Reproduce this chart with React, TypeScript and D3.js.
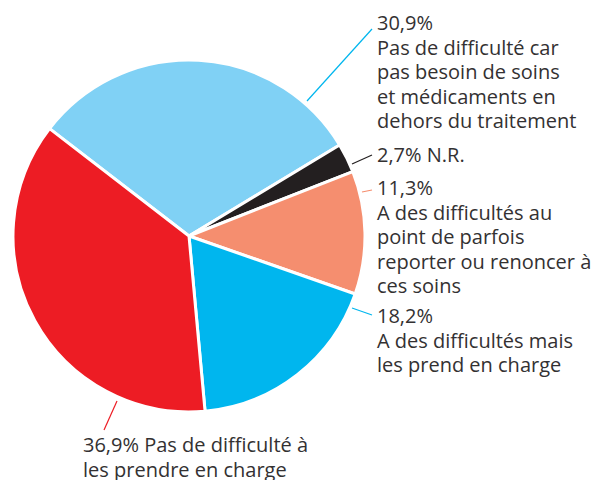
import * as d3 from 'd3';

const categories = [
  'Pas de difficulté car pas besoin de soins et médicaments en dehors du traitement',
  'N.R.',
  'A des difficultés au point de parfois reporter ou renoncer à ces soins',
  'A des difficultés mais les prend en charge',
  'Pas de difficulté à les prendre en charge',
];
const values = [30.9, 2.7, 11.3, 18.2, 36.9];
const colors = ['#80d1f5', '#231f20', '#f58e6f', '#00b6ee', '#ed1c24'];
const lineColors = ['#00b6ee', '#231f20', '#f58e6f', '#00b6ee', '#ed1c24'];
// label lines as drawn in the picture
const labelLines = [
  ['30,9%', 'Pas de difficulté car', 'pas besoin de soins', 'et médicaments en', 'dehors du traitement'],
  ['2,7% N.R.'],
  ['11,3%', 'A des difficultés au', 'point de parfois', 'reporter ou renoncer à', 'ces soins'],
  ['18,2%', 'A des difficultés mais', 'les prend en charge'],
  ['36,9% Pas de difficulté à', 'les prendre en charge'],
];

const W = 592;
const H = 480;
const cx = 189;
const cy = 236;
const R = 176;
const lineH = 24.6;

export default function App() {
  const pie = d3
    .pie<number>()
    .sort(null)
    .value((d) => d)
    .startAngle((-52.4 * Math.PI) / 180)
    .endAngle(((360 - 52.4) * Math.PI) / 180);
  const arcs = pie(values);
  const arc = d3.arc<d3.PieArcDatum<number>>().innerRadius(0).outerRadius(R);
  const outer = d3.arc<d3.PieArcDatum<number>>().innerRadius(R + 2).outerRadius(R + 2);

  // leader line end points and text anchors, per slice
  const ends = [
    { x: 372, y: 29, tx: 377, ty: 30 },
    { x: 372, y: 155, tx: 377, ty: 162 },
    { x: 372, y: 190, tx: 377, ty: 195 },
    { x: 372, y: 315, tx: 377, ty: 323 },
    { x: 104, y: 430, tx: 83, ty: 452 },
  ];
  const starts = [
    [307, 101],
    [352, 164],
    [362, 192],
    [352, 308],
    [117, 401],
  ];

  return (
    <svg width={W} height={H} style={{ display: 'block', position: 'absolute', left: 0, top: 0 }}>
      <rect width={W} height={H} fill="#fff" />
      <g transform={`translate(${cx},${cy})`}>
        {arcs.map((a, i) => (
          <path key={i} d={arc(a) || ''} fill={colors[i]} stroke="#fff" strokeWidth={3} strokeLinejoin="round" />
        ))}
      </g>
      {ends.map((e, i) => (
        <line key={i} x1={starts[i][0]} y1={starts[i][1]} x2={e.x} y2={e.y} stroke={lineColors[i]} strokeWidth={1.2} />
      ))}
      {labelLines.map((ls, i) => (
        <text
          key={i}
          x={ends[i].tx}
          y={ends[i].ty}
          fontFamily="'Liberation Sans Narrow', 'Open Sans', sans-serif"
          fontSize={20}
          fill="#333132"
          aria-label={categories[i]}
        >
          {ls.map((l, j) => (
            <tspan key={j} x={ends[i].tx} y={ends[i].ty + j * lineH}>
              {l}
            </tspan>
          ))}
        </text>
      ))}
    </svg>
  );
}
